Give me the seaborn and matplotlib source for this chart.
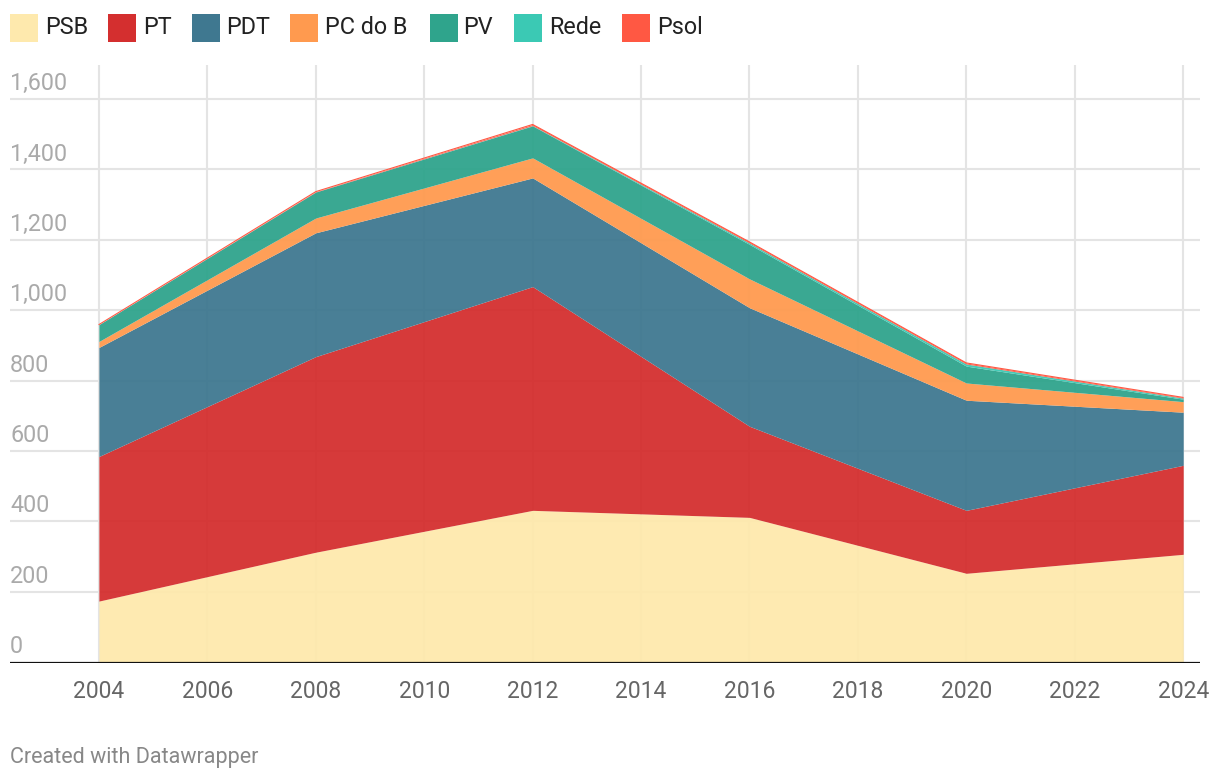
import matplotlib
matplotlib.use("Agg")
import matplotlib.pyplot as plt
import matplotlib.transforms as mtransforms
from matplotlib.patches import Rectangle
import seaborn as sns
import pandas as pd

years = [2004, 2008, 2012, 2016, 2020, 2024]
psb = [173, 312, 431, 411, 252, 306]
pt = [411, 556, 636, 259, 179, 253]
pdt = [310, 352, 309, 337, 313, 151]
pcdob = [17, 42, 57, 82, 49, 30]
pv = [48, 74, 91, 98, 48, 7]
rede = [0, 0, 1, 4, 6, 3]
psol = [0, 1, 3, 3, 3, 2]

series_names = ["PSB", "PT", "PDT", "PC do B", "PV", "Rede", "Psol"]
colors = ["#fee9ad", "#d42f2f", "#3f7890", "#ff9a4f", "#2fa48c", "#3bc9b4", "#ff5843"]
yticks = [0, 200, 400, 600, 800, 1000, 1200, 1400, 1600]
ytick_labels = ["0", "200", "400", "600", "800", "1,000", "1,200", "1,400", "1,600"]
xticks = list(range(2004, 2025, 2))

df = pd.DataFrame({"year": years, "PSB": psb, "PT": pt, "PDT": pdt, "PC do B": pcdob,
                   "PV": pv, "Rede": rede, "Psol": psol})

sns.set_theme(style="white")
plt.rcParams["font.family"] = ["Roboto", "DejaVu Sans"]

W, H = 1220, 782
fig = plt.figure(figsize=(W / 100, H / 100), dpi=100)
left, right, top, bottom = 10, 1200, 65, 663
ax = fig.add_axes([left / W, 1 - bottom / H, (right - left) / W, (bottom - top) / H])

ax.set_xlim(2002.36, 2024.31)
ax.set_ylim(-3, 1697)

# gridlines
for v in yticks[1:]:
    ax.axhline(v, color="#e4e4e4", lw=1.5, zorder=0)
for x in xticks:
    ax.axvline(x, color="#e4e4e4", lw=1.5, zorder=0)

ax.stackplot(df["year"], *[df[n] for n in series_names], colors=colors,
             alpha=0.95, linewidth=0, zorder=2)

cum = df[series_names].cumsum(axis=1)
sns.lineplot(x=df["year"], y=cum["Psol"], color=colors[-1], lw=0.8, ax=ax, zorder=3)

ax.axhline(-3, color="#111111", lw=1.6, zorder=5)

for s in ax.spines.values():
    s.set_visible(False)
ax.set_yticks([])
ax.set_xticks(xticks)
ax.set_xticklabels([str(x) for x in xticks], fontsize=16.5, color="#666666")
ax.tick_params(axis="x", length=0, pad=12)
ax.set_xlabel("")
ax.set_ylabel("")

trans = mtransforms.blended_transform_factory(ax.transAxes, ax.transData)
trans = mtransforms.offset_copy(trans, fig=fig, x=0, y=9, units="dots")
for v, lab in zip(yticks, ytick_labels):
    ax.text(0.0, v, lab, transform=trans, ha="left", va="baseline",
            fontsize=16.8, color="#aaaaaa", zorder=6)

# legend
legend_pos = [(10, 45), (108, 143), (192, 226), (290, 325), (430, 463), (514, 549), (622, 657)]
for (sx, tx), name, c in zip(legend_pos, series_names, colors):
    fig.patches.append(Rectangle((sx / W, 1 - 42 / H), 28 / W, 28 / H,
                                 transform=fig.transFigure, facecolor=c, edgecolor="none"))
    fig.text(tx / W, 1 - 27 / H, name, ha="left", va="center", fontsize=16.8, color="#222222")

fig.text(10 / W, 1 - 757 / H, "Created with Datawrapper", ha="left", va="center",
         fontsize=15.5, color="#888888")

fig.savefig("out.png", dpi=100, facecolor="white")
